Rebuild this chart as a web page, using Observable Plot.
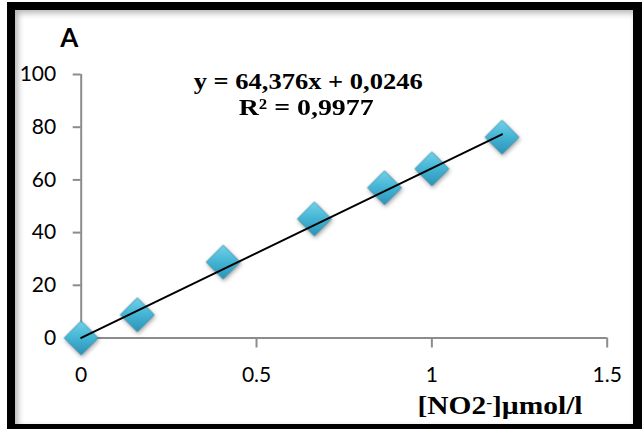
<!DOCTYPE html>
<html><head><meta charset="utf-8">
<script src="https://cdn.jsdelivr.net/npm/d3@7"></script>
<script src="https://cdn.jsdelivr.net/npm/@observablehq/plot@0.6"></script>
<style>
body{margin:0;background:#fff;}
#wrap{position:relative;width:642px;height:429px;overflow:hidden;}
#wrap svg{position:absolute;left:0;top:0;}
#frame{position:absolute;left:7px;top:2px;width:635px;height:427px;box-sizing:border-box;border-style:solid;border-color:#000;border-width:8px 9px 5px 8px;box-shadow:inset 3px 3px 6px rgba(0,0,0,0.3);pointer-events:none;}
</style></head><body>
<div id="wrap"><div id="frame"></div></div>
<script>
const concentration = [0, 0.16, 0.405, 0.665, 0.865, 1.0, 1.2];
const signal = [0, 8.8, 28.8, 45.2, 57.0, 64.2, 76.2];
const xTicks = [0, 0.5, 1, 1.5];
const yTicks = [0, 20, 40, 60, 80, 100];
const slope = 64.376;
const intercept = 0.0246;
const equationText = "y = 64,376x + 0,0246";
const r2Text = "R² = 0,9977";
const panelLabel = "A";
const xLabelParts = ["[NO2", "-", "]µmol/l"];

const points = concentration.map((x, i) => ({x, y: signal[i]}));
const fit = d3.extent(concentration).map(x => ({x, y: slope * x + intercept}));

const axisGray = "#8c8c8c";
const serif = "Liberation Serif, serif";
const plot = Plot.plot({
  width: 642, height: 429,
  marginLeft: 80.7, marginRight: 35.3, marginTop: 74, marginBottom: 91.5,
  style: {background: "transparent", fontFamily: "Lato, sans-serif", fontSize: "21px", overflow: "visible"},
  x: {domain: [0, 1.5]},
  y: {domain: [0, 100]},
  marks: [
    Plot.ruleY([0], {stroke: axisGray, strokeWidth: 2}),
    Plot.ruleX([0], {stroke: axisGray, strokeWidth: 2}),
    Plot.axisX({ticks: xTicks, tickSize: 10, tickPadding: 19, stroke: axisGray, strokeWidth: 2, fill: "black", fontSize: 21, tickFormat: d => String(d), label: null}),
    Plot.axisY({ticks: yTicks, tickSize: 8, tickPadding: 17, stroke: axisGray, strokeWidth: 2, fill: "black", fontSize: 21, tickFormat: d => String(d), label: null}),
    Plot.dot(points, {x: "x", y: "y", symbol: "diamond2", r: 15.3, fill: "url(#dgrad)", stroke: "#2a86a6", strokeWidth: 0.8}),
    Plot.line(fit, {x: "x", y: "y", stroke: "black", strokeWidth: 2}),
    Plot.text([panelLabel], {frameAnchor: "top-left", dx: -12, dy: -28, lineAnchor: "bottom", textAnchor: "middle", fontSize: 26, fontWeight: "bold", fontFamily: "Lato, sans-serif", fill: "black"}),
    Plot.text([equationText], {frameAnchor: "top", dx: -36, dy: 14, lineAnchor: "bottom", textAnchor: "middle", fontSize: 23.4, fontWeight: "bold", fontFamily: serif, fill: "black"}),
    Plot.text([r2Text], {frameAnchor: "top", dx: -38, dy: 40, lineAnchor: "bottom", textAnchor: "middle", fontSize: 23.4, fontWeight: "bold", fontFamily: serif, fill: "black"}),
    Plot.text([xLabelParts.join("")], {frameAnchor: "bottom-right", dx: -24.7, dy: 75.5, lineAnchor: "bottom", textAnchor: "end", fontSize: 25, fontWeight: "bold", fontFamily: serif, fill: "black"})
  ]
});

const svg = d3.select(plot);
const defs = svg.insert("defs", ":first-child");
const g = defs.append("linearGradient").attr("id", "dgrad").attr("x1", 0).attr("y1", 0).attr("x2", 0).attr("y2", 1);
g.append("stop").attr("offset", "0%").attr("stop-color", "#72d2ea");
g.append("stop").attr("offset", "50%").attr("stop-color", "#44b4d4");
g.append("stop").attr("offset", "100%").attr("stop-color", "#2b93b8");
svg.selectAll("g[aria-label=dot]").style("filter", "drop-shadow(1px 2px 2px rgba(0,0,0,0.35))");

svg.selectAll("g[aria-label=text] text").each(function () {
  const t = d3.select(this);
  const s = t.text();
  if (s === equationText) t.attr("textLength", 229).attr("lengthAdjust", "spacingAndGlyphs");
  if (s === r2Text) t.attr("textLength", 135).attr("lengthAdjust", "spacingAndGlyphs");
  if (s === xLabelParts.join("")) {
    t.text(null);
    t.append("tspan").text(xLabelParts[0]);
    t.append("tspan").attr("dy", "-0.45em").attr("font-size", "60%").text(xLabelParts[1]);
    t.append("tspan").attr("dy", "0.27em").text(xLabelParts[2]);
    t.attr("textLength", 165).attr("lengthAdjust", "spacingAndGlyphs");
  }
});

const wrap = document.getElementById("wrap");
wrap.insertBefore(plot, document.getElementById("frame"));
</script>
</body></html>
